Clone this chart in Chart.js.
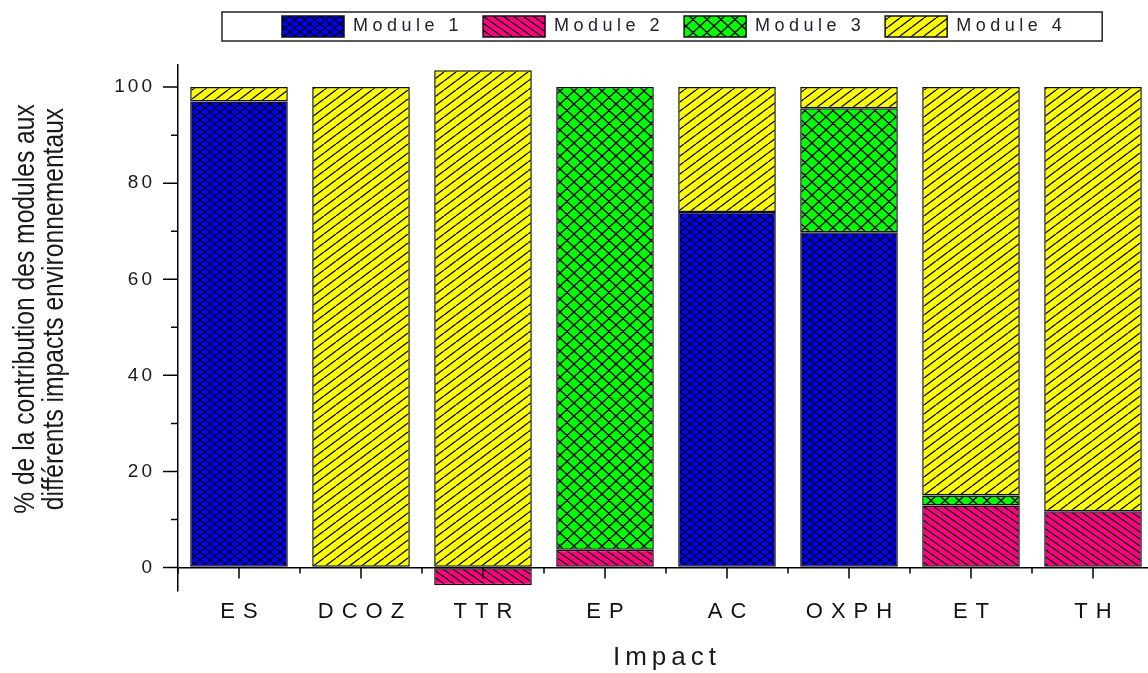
<!DOCTYPE html>
<html lang="fr">

<head>
  <meta charset="UTF-8">
  <title>Contribution des modules</title>
  <script src="https://cdn.jsdelivr.net/npm/chart.js"></script>
  <style>
    html, body { margin: 0; padding: 0; background: #fff; overflow: hidden; }
    #boite { width: 1154px; height: 673px; }
  </style>
</head>

<body>
  <div id="boite"><canvas id="graphique"></canvas></div>

<script>
const impacts = ['ES', 'DCOZ', 'TTR', 'EP', 'AC', 'OXPH', 'ET', 'TH'];
const module1 = [97, 0, 0, 0, 74, 69.8, 0, 0];
const module2 = [0, 0, -3.7, 3.7, 0, 0, 12.9, 11.7];
const module3 = [0, 0, 0, 96.3, 0, 25.8, 2.1, 0];
const module4 = [3, 100, 103.5, 0, 26, 4.4, 85, 88.3];
const ticksY = [0, 10, 20, 30, 40, 50, 60, 70, 80, 90, 100];
const nomsModules = ['Module 1', 'Module 2', 'Module 3', 'Module 4'];
const titreY = ['% de la contribution des modules aux', 'différents impacts environnementaux'];
const titreX = 'Impact';

// motifs hachurés façon Origin
function hachure(fond, w, h, sens) {
  const c = document.createElement('canvas');
  c.width = w; c.height = h;
  const g = c.getContext('2d');
  g.fillStyle = fond;
  g.fillRect(0, 0, w, h);
  g.strokeStyle = '#000';
  g.lineWidth = 1.3;
  g.beginPath();
  for (let k = -1; k <= 1; k++) {
    if (sens === '/' || sens === 'x') { g.moveTo(k * w, h); g.lineTo(k * w + w, 0); }
    if (sens === '\\' || sens === 'x') { g.moveTo(k * w, 0); g.lineTo(k * w + w, h); }
  }
  g.stroke();
  return g.createPattern(c, 'repeat');
}

const motifs = [
  hachure('#0000ff', 10, 8, 'x'),
  hachure('#ff0080', 10, 7, '\\'),
  hachure('#00ff00', 14, 13, 'x'),
  hachure('#ffff00', 12, 9, '/')
];

// letterSpacing par élément (le texte d'Origin est très espacé)
function espacer(obj, methodes, esp, dx) {
  methodes.forEach(function (m) {
    const orig = obj[m];
    obj[m] = function () {
      const c = this.ctx;
      c.save();
      c.letterSpacing = esp;
      c.translate(dx, 0);
      const r = orig.apply(this, arguments);
      c.restore();
      return r;
    };
  });
}

const decor = {
  id: 'decor',
  beforeLayout(chart) {
    if (chart.$espace) return;
    chart.$espace = true;
    espacer(chart.legend, ['fit', 'draw'], '4.5px', 0);
    espacer(chart.scales.x, ['draw'], '8px', 4);
    espacer(chart.scales.y, ['draw'], '3px', 0);
  },
  afterLayout(chart) {
    // la légende est décalée vers la droite et remontée
    const lg = chart.legend;
    const p = lg.options.labels.padding;
    const debut = (lg.left + p + lg.right - lg.lineWidths[0]) / 2;
    const dx = 282 - debut;
    lg.left += dx; lg.right += dx;
    lg.top -= 18; lg.bottom -= 18;
  },
  afterDraw(chart) {
    const ctx = chart.ctx;
    const x = chart.scales.x, y = chart.scales.y;
    const y0 = y.getPixelForValue(0);
    const gauche = chart.chartArea.left;

    ctx.save();
    ctx.strokeStyle = '#000';
    ctx.lineWidth = 1.5;
    ctx.beginPath();
    ticksY.forEach(function (v) {
      const py = y.getPixelForValue(v);
      const len = v % 20 === 0 ? 15 : 7;
      ctx.moveTo(gauche - len, py);
      ctx.lineTo(gauche, py);
    });
    impacts.forEach(function (_, i) {
      const px = x.getPixelForValue(i);
      ctx.moveTo(px, y0);
      ctx.lineTo(px, y0 + 11);
    });
    for (let i = 0; i <= impacts.length; i++) {
      const px = x.getPixelForValue(i - 0.5);
      ctx.moveTo(px, y0);
      ctx.lineTo(px, y0 + 6);
    }
    ctx.stroke();

    // cadre de la légende
    const hb = chart.legend.legendHitBoxes;
    const der = hb[hb.length - 1];
    const l0 = hb[0].left - 60;
    ctx.lineWidth = 1.5;
    ctx.strokeStyle = '#222';
    ctx.strokeRect(l0, 12, der.left + der.width + 36 - l0, 29);

    // titre X
    ctx.fillStyle = '#1a1a1a';
    ctx.font = '26px "Liberation Sans", Arial, sans-serif';
    ctx.letterSpacing = '5px';
    ctx.textAlign = 'center';
    ctx.textBaseline = 'middle';
    ctx.fillText(titreX, (chart.chartArea.left + chart.chartArea.right) / 2 + 1, 658);

    // titre Y sur deux lignes
    ctx.letterSpacing = '0px';
    ctx.translate(34, 309);
    ctx.rotate(-Math.PI / 2);
    ctx.scale(0.85, 1);
    ctx.font = '29px "Liberation Sans", Arial, sans-serif';
    ctx.textBaseline = 'alphabetic';
    ctx.fillText(titreY[0], 0, 0);
    ctx.fillText(titreY[1], 0, 29);
    ctx.restore();
  }
};

const series = [module1, module2, module3, module4];

new Chart(document.getElementById('graphique'), {
  type: 'bar',
  data: {
    labels: impacts,
    datasets: series.map(function (d, i) {
      return {
        label: nomsModules[i],
        data: d,
        backgroundColor: motifs[i],
        borderColor: '#111',
        borderWidth: 1.5,
        borderSkipped: false,
        barPercentage: 0.8,
        categoryPercentage: 1.0
      };
    })
  },
  options: {
    responsive: true,
    maintainAspectRatio: false,
    animation: false,
    layout: { padding: { top: 14, left: 0, right: 0, bottom: 48 } },
    scales: {
      x: {
        stacked: true,
        grid: { display: false },
        border: { display: false },
        ticks: {
          color: '#111',
          padding: 0,
          maxRotation: 0,
          autoSkip: false,
          font: { family: '"Liberation Sans", Arial, sans-serif', size: 22 }
        }
      },
      y: {
        stacked: true,
        min: -4.8,
        max: 104.6,
        afterBuildTicks: function (scale) {
          scale.ticks = ticksY.map(function (v) { return { value: v }; });
        },
        afterFit: function (scale) { scale.width = 178; },
        grid: {
          drawTicks: false,
          lineWidth: 1.5,
          color: function (c) { return c.tick && c.tick.value === 0 ? '#000' : 'rgba(0,0,0,0)'; }
        },
        border: { display: true, color: '#000', width: 1.5 },
        ticks: {
          color: '#1a1a1a',
          padding: 23,
          font: { family: '"Liberation Sans", Arial, sans-serif', size: 19 },
          callback: function (v) { return v % 20 === 0 ? String(v) : ''; }
        }
      }
    },
    plugins: {
      tooltip: { enabled: false },
      legend: {
        position: 'top',
        labels: {
          boxWidth: 62,
          boxHeight: 21,
          padding: 20,
          color: '#222233',
          font: { family: '"Liberation Sans", Arial, sans-serif', size: 18 }
        }
      }
    }
  },
  plugins: [decor]
});
</script>
</body>

</html>
